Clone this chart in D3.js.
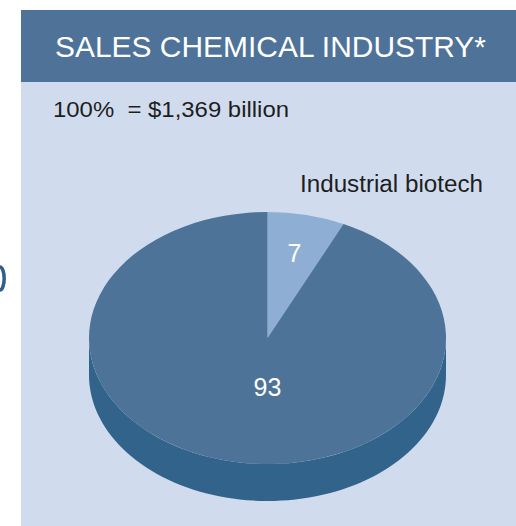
<!DOCTYPE html>
<html>
<head>
<meta charset="utf-8">
<script src="https://cdn.jsdelivr.net/npm/d3@7"></script>
<style>
  html, body { margin: 0; padding: 0; background: #ffffff; }
  svg { display: block; }
  text { font-family: "Liberation Sans", Arial, Helvetica, sans-serif; white-space: pre; }
</style>
</head>
<body>
<svg id="chart" width="516" height="526"></svg>
<script>
// Share of chemical industry sales, percent
const categories = ["Industrial biotech", "Other chemicals"];
const shares = [7, 93];
const titleText = "SALES CHEMICAL INDUSTRY*";
const totalText = "100%  = $1,369 billion";

const W = 516, H = 526;
const svg = d3.select("#chart");

// panel and header band
svg.append("rect").attr("x", 21).attr("y", 10).attr("width", W - 21).attr("height", H - 10)
  .attr("fill", "#d0dcee");
svg.append("rect").attr("x", 21).attr("y", 10).attr("width", W - 21).attr("height", 72)
  .attr("fill", "#4e7298");

// small arc at the far left edge
svg.append("path")
  .attr("d", "M0,267 A4,11 0 0 1 0,290")
  .attr("fill", "none").attr("stroke", "#2f5f8c").attr("stroke-width", 3.5);

svg.append("text").attr("x", 55).attr("y", 57)
  .attr("fill", "#ffffff").attr("font-size", 29)
  .attr("textLength", 431).attr("lengthAdjust", "spacingAndGlyphs")
  .text(titleText);

svg.append("text").attr("x", 53).attr("y", 117)
  .attr("fill", "#1e1e1e").attr("font-size", 22)
  .attr("textLength", 236).attr("lengthAdjust", "spacingAndGlyphs")
  .text(totalText);

// tilted pie
const cx = 267.5, cy = 338, rx = 178.5, ry = 126, depth = 37;
const tilt = ry / rx;

const pie = d3.pie().sort(null).value(d => d)
  .startAngle(0).endAngle(2 * Math.PI);
const arcs = pie(shares);

const topColors = ["#8faed3", "#4d7399"];
const sideColors = ["#6f93bd", "#32638b"];

const g = svg.append("g");

// point on the ellipse for a d3 pie angle (0 at top, clockwise)
const px = a => cx + rx * Math.sin(a);
const py = (a, dy = 0) => cy - ry * Math.cos(a) + dy;

// front wall: only the part of each slice facing the viewer
arcs.forEach((a, i) => {
  const s = Math.max(a.startAngle, Math.PI / 2);
  const e = Math.min(a.endAngle, 3 * Math.PI / 2);
  if (e <= s) return;
  const steps = 80;
  const pts = d3.range(steps + 1).map(k => s + (e - s) * k / steps);
  let d = "M" + px(s) + "," + py(s);
  pts.forEach(t => { d += "L" + px(t) + "," + py(t); });
  pts.slice().reverse().forEach(t => { d += "L" + px(t) + "," + py(t, depth); });
  d += "Z";
  g.append("path").attr("d", d).attr("fill", sideColors[i]);
});

// top face
const arcGen = d3.arc().innerRadius(0).outerRadius(rx);
const topFace = g.append("g").attr("transform", `translate(${cx},${cy}) scale(1,${tilt})`);
topFace.selectAll("path").data(arcs).join("path")
  .attr("d", arcGen)
  .attr("fill", (d, i) => topColors[i]);

// value labels on the top face: small slice at its mid angle, large one below centre
const labelPlacement = [
  { r: 0.69, angle: null },
  { r: 0.39, angle: Math.PI }
];
arcs.forEach((a, i) => {
  const p = labelPlacement[i];
  const ang = p.angle === null ? (a.startAngle + a.endAngle) / 2 : p.angle;
  const r = rx * p.r;
  const x = cx + r * Math.sin(ang);
  const y = cy - r * tilt * Math.cos(ang);
  svg.append("text")
    .attr("x", x).attr("y", y + 9)
    .attr("text-anchor", "middle")
    .attr("fill", "#ffffff").attr("font-size", 25)
    .text(a.data);
});

// category label for the small slice
svg.append("text").attr("x", 300).attr("y", 192)
  .attr("fill", "#1e1e1e").attr("font-size", 23)
  .attr("textLength", 183).attr("lengthAdjust", "spacingAndGlyphs")
  .text(categories[0]);
</script>
</body>
</html>
